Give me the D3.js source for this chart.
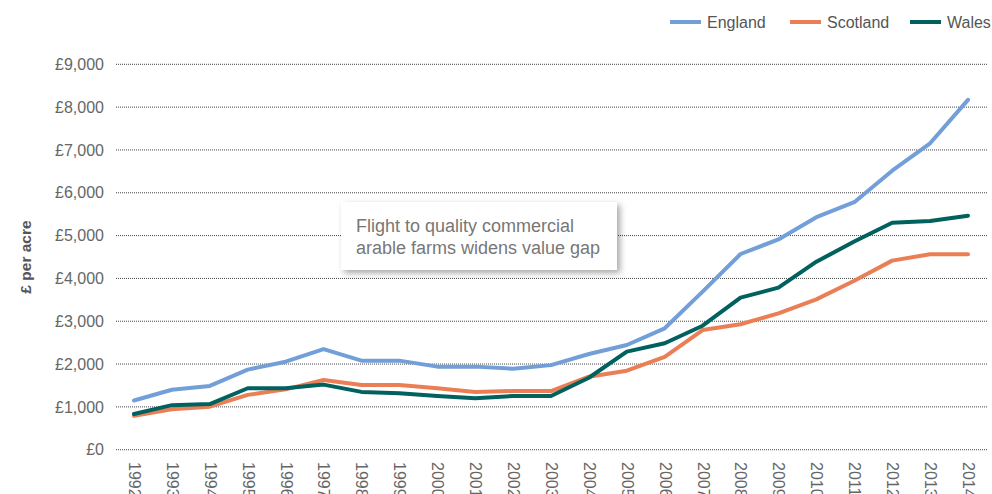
<!DOCTYPE html>
<html>
<head>
<meta charset="utf-8">
<script src="https://cdn.jsdelivr.net/npm/d3@7"></script>
<style>
  html, body { margin: 0; padding: 0; background: #fff; }
  svg { display: block; font-family: "Liberation Sans", Arial, Helvetica, sans-serif; }
</style>
</head>
<body>
<svg id="chart" width="992" height="494"></svg>
<script>
// Average farmland value, £ per acre
const years = ["1992","1993","1994","1995","1996","1997","1998","1999","2000","2001","2002","2003",
               "2004","2005","2006","2007","2008","2009","2010","2011","2012","2013","2014"];
const england  = [1150,1400,1490,1870,2055,2350,2080,2080,1940,1940,1890,1975,
                  2235,2445,2835,3690,4570,4910,5430,5780,6515,7155,8170];
const scotland = [790,945,1005,1280,1410,1630,1510,1510,1435,1350,1370,1370,
                  1705,1845,2170,2795,2930,3185,3510,3945,4415,4565,4565];
const wales    = [835,1040,1065,1435,1435,1520,1350,1320,1255,1200,1255,1255,
                  1680,2290,2485,2895,3550,3785,4390,4860,5300,5340,5465];
const yTicks = [0,1000,2000,3000,4000,5000,6000,7000,8000,9000];
const seriesNames = ["England","Scotland","Wales"];
const seriesColors = ["#739fd9","#ea7f56","#00615f"];
const annotationLines = ["Flight to quality commercial","arable farms widens value gap"];

const series = [england, scotland, wales].map((values, i) => ({
  name: seriesNames[i], color: seriesColors[i], values
}));

const svg = d3.select("#chart");
const FONT = "Liberation Sans, Arial, sans-serif";

const x = d3.scalePoint().domain(years).range([134, 968]);
const y = d3.scaleLinear().domain([0, 9000]).range([449.7, 64.3]);

// Dotted horizontal gridlines
svg.append("g")
  .selectAll("line")
  .data(yTicks)
  .join("line")
  .attr("x1", 116).attr("x2", 987)
  .attr("y1", d => y(d)).attr("y2", d => y(d))
  .attr("stroke", "#444")
  .attr("stroke-width", 1)
  .attr("stroke-dasharray", "1,1");

// Y axis labels
const yAxis = d3.axisLeft(y)
  .tickValues(yTicks)
  .tickSize(0)
  .tickPadding(0)
  .tickFormat(d => "£" + d3.format(",")(d));
svg.append("g")
  .attr("transform", "translate(104,0)")
  .call(yAxis)
  .call(g => g.select(".domain").remove())
  .call(g => g.selectAll("text")
    .attr("fill", "#666")
    .attr("font-size", 16)
    .attr("font-family", FONT));

// Y axis title
svg.append("text")
  .attr("transform", "translate(31,257) rotate(-90)")
  .attr("text-anchor", "middle")
  .attr("font-size", 15.5)
  .attr("font-weight", "bold")
  .attr("fill", "#555")
  .text("£ per acre");

// X axis labels, rotated to read downwards
const xAxis = d3.axisBottom(x).tickSize(0).tickPadding(0);
svg.append("g")
  .attr("transform", "translate(0,462)")
  .call(xAxis)
  .call(g => g.select(".domain").remove())
  .call(g => g.selectAll("text")
    .attr("transform", "rotate(90)")
    .attr("text-anchor", "start")
    .attr("dy", "0.35em")
    .attr("x", 0).attr("y", 0)
    .attr("fill", "#666")
    .attr("font-size", 16)
    .attr("font-family", FONT));

// Series lines
const line = d3.line()
  .x((d, i) => x(years[i]))
  .y(d => y(d));

svg.append("g")
  .selectAll("path")
  .data(series)
  .join("path")
  .attr("d", d => line(d.values))
  .attr("fill", "none")
  .attr("stroke", d => d.color)
  .attr("stroke-width", 4)
  .attr("stroke-linejoin", "round")
  .attr("stroke-linecap", "round");

// Annotation callout with soft drop shadow
const defs = svg.append("defs");
const f = defs.append("filter").attr("id", "shadow")
  .attr("x", "-10%").attr("y", "-20%").attr("width", "130%").attr("height", "160%");
f.append("feDropShadow")
  .attr("dx", 3).attr("dy", 3).attr("stdDeviation", 3)
  .attr("flood-color", "#000").attr("flood-opacity", 0.35);

svg.append("rect")
  .attr("x", 341).attr("y", 202)
  .attr("width", 276).attr("height", 68)
  .attr("fill", "#fff")
  .attr("filter", "url(#shadow)");

svg.append("g")
  .selectAll("text")
  .data(annotationLines)
  .join("text")
  .attr("x", 356)
  .attr("y", (d, i) => 231.5 + i * 22.5)
  .attr("font-size", 18)
  .attr("fill", "#777")
  .text(d => d);

// Legend
const legendX = [670, 790, 910];
const lg = svg.append("g")
  .selectAll("g")
  .data(series)
  .join("g")
  .attr("transform", (d, i) => `translate(${legendX[i]},22)`);
lg.append("line")
  .attr("x1", 0).attr("x2", 31)
  .attr("y1", 0).attr("y2", 0)
  .attr("stroke", d => d.color)
  .attr("stroke-width", 4);
lg.append("text")
  .attr("x", 37).attr("y", 0)
  .attr("dy", "0.35em")
  .attr("font-size", 16)
  .attr("fill", "#555")
  .text(d => d.name);
</script>
</body>
</html>
